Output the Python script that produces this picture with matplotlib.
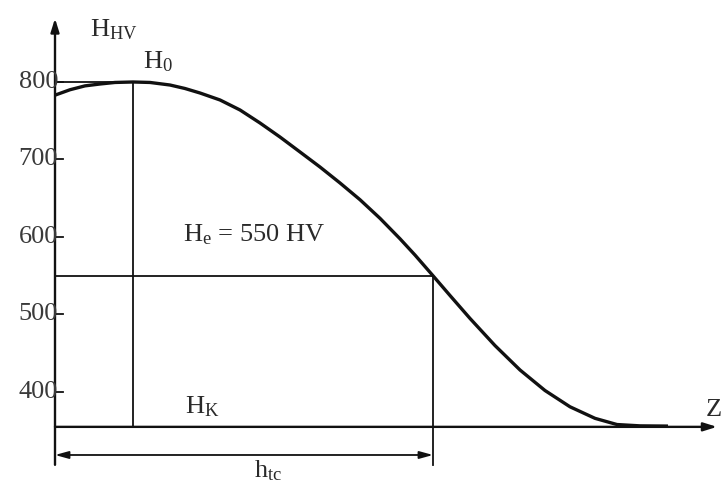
"""Hardness profile sketch: H_HV vs depth Z, effective case depth at 550 HV"""

import matplotlib
matplotlib.use("Agg")
import matplotlib.pyplot as plt

plt.rcParams["font.family"] = ["Liberation Serif", "DejaVu Serif"]
plt.rcParams["mathtext.fontset"] = "custom"
plt.rcParams["mathtext.rm"] = "Liberation Serif"
plt.rcParams["mathtext.it"] = "Liberation Serif:italic"

# ── data (depth in arbitrary units, hardness in HV) ──
depth = [0, 15, 30, 45, 60, 78, 95, 115, 130, 145, 165, 185, 205, 225, 245, 265,
         285, 305, 325, 345, 360, 378, 395, 415, 440, 465, 490, 515, 540, 562, 585, 613]
hardness = [783, 790, 795, 797.4, 799.4, 800, 799.4, 796.1, 791.6, 785.8, 776.8,
            763.9, 747.1, 729.0, 709.7, 690.3, 669.7, 648.1, 624.1, 597.7, 576.7,
            550, 524.5, 494.9, 459.9, 428.4, 401.9, 380.9, 366.0, 358.0, 356.3, 356.0]
yticks = [400, 500, 600, 700, 800]
H0 = 800
He = 550
z_peak = 78       # depth of H0
z_eff = 378       # depth where curve hits He
H_base = 355      # level of the Z axis
z_end = 662       # tip of Z axis

fig = plt.figure(figsize=(7.21, 4.87), dpi=100)
ax = fig.add_axes([0, 0, 1, 1])
ax.set_xlim(-55, 666)
ax.set_ylim(277.4, 905.8)
ax.axis("off")

ink = "#111111"
txt = "#2a2a2a"
arrow = dict(arrowstyle="-|>,head_length=0.8,head_width=0.25", color=ink, lw=1.7,
             shrinkA=0, shrinkB=0)

# axes with arrows
ax.annotate("", xy=(0, 882), xytext=(0, 306), arrowprops=arrow)
ax.annotate("", xy=(z_end, H_base), xytext=(0, H_base), arrowprops=arrow)

# y ticks
for t in yticks:
    ax.plot([0, 8], [t, t], color=ink, lw=1.3)
    ax.text(3, t, str(t), ha="right", va="center", fontsize=19, color="#3a3a3a")

# construction lines
ax.plot([0, z_peak], [H0, H0], color=ink, lw=1.3)
ax.plot([z_peak, z_peak], [H0, H_base], color=ink, lw=1.3)
ax.plot([0, z_eff], [He, He], color=ink, lw=1.3)
ax.plot([z_eff, z_eff], [He, 306], color=ink, lw=1.3)

# dimension arrow for case depth
ax.annotate("", xy=(0, 318.7), xytext=(z_eff, 318.7),
            arrowprops=dict(arrowstyle="<|-|>,head_length=0.8,head_width=0.22",
                            color=ink, lw=1.3, shrinkA=0, shrinkB=0))

# hardness curve
ax.plot(depth, hardness, color=ink, lw=2.4, solid_capstyle="butt",
        solid_joinstyle="round")

# labels
fs = 19
ax.text(35, 867, r"$\mathrm{H_{HV}}$", fontsize=fs, va="center", color=txt)
ax.text(88, 826, r"$\mathrm{H_0}$", fontsize=fs, va="center", color=txt)
ax.text(128, 603, r"$\mathrm{H_e}$ = 550 HV", fontsize=fs, va="center", color=txt)
ax.text(130, 381, r"$\mathrm{H_K}$", fontsize=fs, va="center", color=txt)
ax.text(213, 299, r"$\mathrm{h_{tc}}$", fontsize=fs, ha="center", va="center", color=txt)
ax.text(651, 377, "Z", fontsize=fs, va="center", color=txt)

fig.savefig("out.png", dpi=100)
